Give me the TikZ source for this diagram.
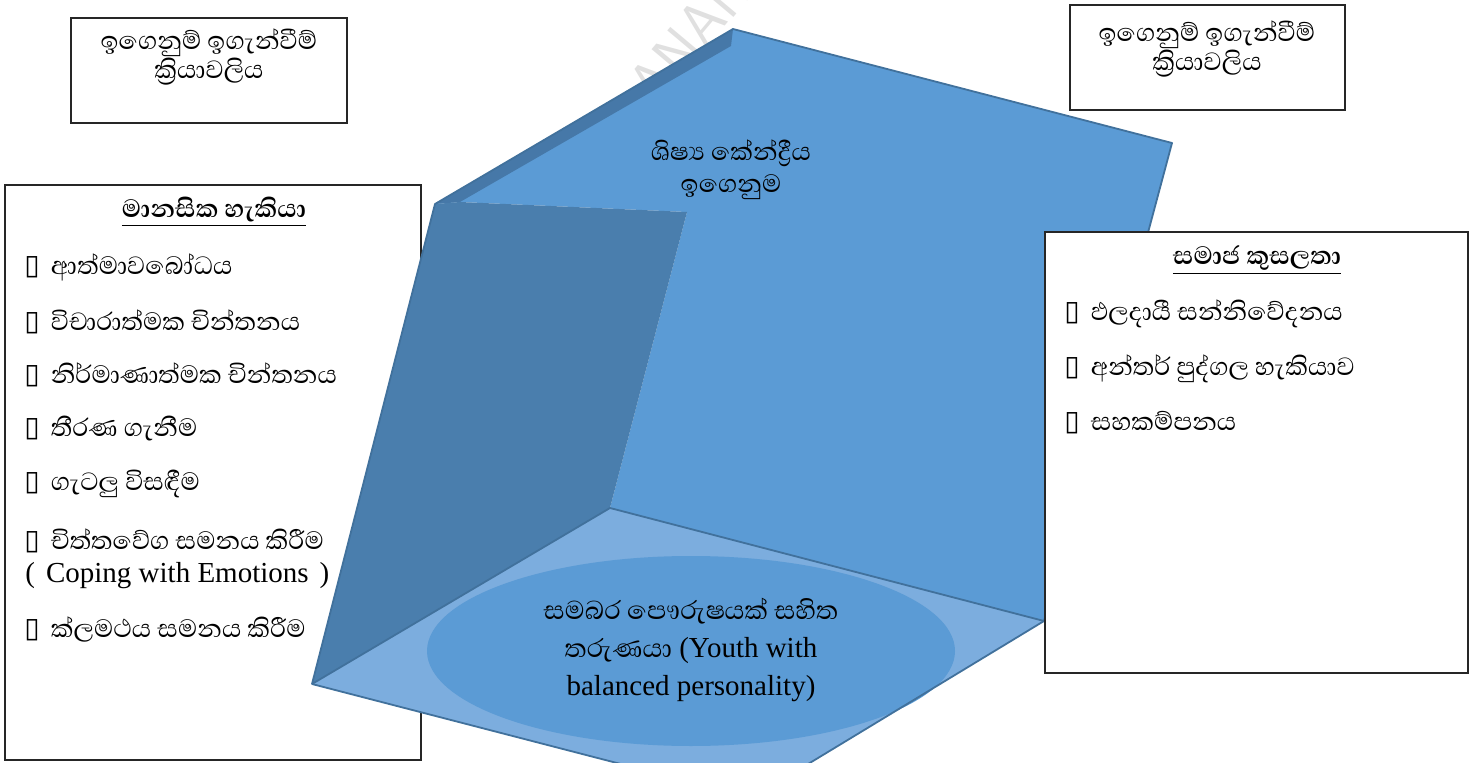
\documentclass[tikz,border=0pt]{standalone}
\usepackage{fontspec}
\setmainfont{Liberation Serif}
\newfontfamily\sinfont[Script=Sinhala]{Abhaya Libre}
\newfontfamily\boxfont{DejaVu Sans}
\usetikzlibrary{positioning}

\definecolor{backblue}{RGB}{91,155,213}
\definecolor{wallblue}{RGB}{74,126,173}
\definecolor{bevelblue}{RGB}{70,120,168}
\definecolor{floorblue}{RGB}{124,173,222}
\definecolor{edgeblue}{RGB}{65,113,156}

\newcommand\bx{{\boxfont\fontsize{14}{14}\selectfont\char"25AF}\hspace{5.5pt}}

\tikzset{
  frame/.style={draw=black!85, line width=0.8pt, fill=white},
  heading/.style={inner sep=0pt, align=center, font=\sinfont\fontsize{16}{14.5}\selectfont},
  skill/.style={anchor=west, inner sep=0pt, font=\sinfont\fontsize{16}{16}\selectfont},
  hub/.style={inner sep=0pt, align=center, font=\fontsize{14.5}{19}\selectfont}
}

\begin{document}
\begin{tikzpicture}[x=0.5pt,y=-0.5pt]
  \useasboundingbox (0,0) rectangle (1470,763);
  \clip (0,0) rectangle (1470,763);
  %% watermark
  \node[rotate=50, text=black!12, font=\sffamily\fontsize{30}{30}\selectfont] (mark) at (702,22) {ANANA};
  %% boxes behind the shape
  \draw[frame] (71,18) rectangle (347,123); % process, left
  \node[heading] (procl) at (209,57) {ඉගෙනුම් ඉගැන්වීම්\\ක්‍රියාවලිය};
  \draw[frame] (5,185) rectangle (421,760); % mental skills
  %% corners of the shape
  \coordinate (top) at (733,29);
  \coordinate (rt) at (1172,143);
  \coordinate (fr) at (1044,621);
  \coordinate (fb) at (610,508);
  \coordinate (wt) at (687,212);
  \coordinate (wi) at (460,202);
  \coordinate (wl) at (435,204);
  \coordinate (bi) at (731,46);
  \coordinate (fl) at (312,684);
  \coordinate (ff) at (752,798);
  %% faces
  \fill[backblue] (top) -- (rt) -- (fr) -- (fb) -- (wt) -- (wi) -- (wl) -- cycle; % back
  \fill[bevelblue] (wl) -- (top) -- (bi) -- (wi) -- cycle; % rim
  \fill[wallblue] (wl) -- (wi) -- (wt) -- (fb) -- (fl) -- cycle; % left wall
  \fill[floorblue] (fl) -- (fb) -- (fr) -- (ff) -- cycle; % floor
  \fill[backblue] (691,651) ellipse [x radius=264, y radius=95];
  %% edges
  \draw[edgeblue, line width=0.9pt, line join=round] (wl) -- (top) -- (rt) -- (fr) -- (ff) -- (fl) -- cycle;
  \draw[edgeblue, line width=0.9pt] (fl) -- (fb) -- (fr);
  %% texts on the shape
  \node[heading, font=\sinfont\fontsize{16}{16}\selectfont] (learn) at (731,170) {ශිෂ්‍ය කේන්ද්‍රීය\\ඉගෙනුම};
  \node[hub] (youth) at (691,650) {{\sinfont\fontsize{16.5}{19}\selectfont සමබර පෞරුෂයක් සහිත}\\{\sinfont\fontsize{16.5}{19}\selectfont තරුණයා} (Youth with\\balanced personality)};
  %% mental skills
  \node[heading] (mtitle) at (214,212) {\underline{\textbf{මානසික හැකියා}}};
  \node[skill] (m1) at (24,267) {\bx ආත්මාවබෝධය};
  \node[skill] (m2) at (24,322) {\bx විචාරාත්මක චින්තනය};
  \node[skill] (m3) at (24,375) {\bx නිර්මාණාත්මක චින්තනය};
  \node[skill] (m4) at (24,429) {\bx තීරණ ගැනීම};
  \node[skill] (m5) at (24,484) {\bx ගැටලු විසඳීම};
  \node[skill] (m6) at (24,541) {\bx චිත්තවේග සමනය කිරීම};
  \node[anchor=west, inner sep=0pt, font=\fontsize{14.5}{14.5}\selectfont] (m6e) at (25,576) {(\hspace{5.5pt}Coping with Emotions\hspace{5.5pt})};
  \node[skill] (m7) at (24,629) {\bx ක්ලමථය සමනය කිරීම};
  %% boxes in front
  \draw[frame] (1070,5) rectangle (1345,110); % process, right
  \node[heading] (procr) at (1207,49) {ඉගෙනුම් ඉගැන්වීම්\\ක්‍රියාවලිය};
  \draw[frame] (1045,232) rectangle (1468,673); % social skills
  \node[heading] (stitle) at (1257,260) {\underline{\textbf{සමාජ කුසලතා}}};
  \node[skill] (s1) at (1064,314) {\bx ඵලදායී සන්නිවේදනය};
  \node[skill] (s2) at (1064,369) {\bx අන්තර් පුද්ගල හැකියාව};
  \node[skill] (s3) at (1064,423) {\bx සහකම්පනය};
\end{tikzpicture}
\end{document}
